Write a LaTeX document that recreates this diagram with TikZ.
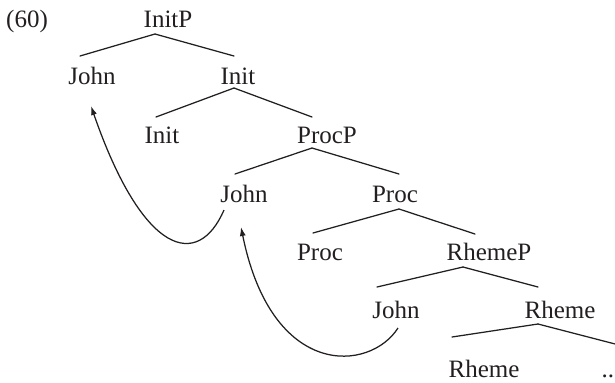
\documentclass[tikz,border=0pt]{standalone}
\usepackage{fontspec}
\setmainfont{Liberation Serif}
\usepackage{xcolor}
\usetikzlibrary{calc,arrows.meta}
\definecolor{ink}{HTML}{231F20}
\tikzset{
  lab/.style={anchor=base, text=ink, font=\fontsize{10}{12}\selectfont, inner sep=0pt},
  branch/.style={draw=ink, line width=0.5pt, line cap=round},
  move/.style={draw=ink, line width=0.5pt, -{Latex[length=3.6pt,width=2.4pt]}},
}
\begin{document}
\begin{tikzpicture}[x=0.4pt,y=-0.4pt]
  \useasboundingbox (0,0) rectangle (615,382);
  \node[lab] (ex) at (27,27) {(60)};
  % labels sit on their baselines
  \node[lab] (InitP) at (168,27) {InitP};
  \node[lab] (JohnA) at (92,84) {John};
  \node[lab] (Init) at (238,84) {Init};
  \node[lab] (InitH) at (162,143) {Init};
  \node[lab] (ProcP) at (327,143) {ProcP};
  \node[lab] (JohnB) at (244,202) {John};
  \node[lab] (Proc) at (395,202) {Proc};
  \node[lab] (ProcH) at (320,260) {Proc};
  \node[lab] (RhemeP) at (489,260) {RhemeP};
  \node[lab] (JohnC) at (396,318) {John};
  \node[lab] (Rheme) at (560,318) {Rheme};
  \node[lab] (RhemeH) at (484,377) {Rheme};
  \node[lab] (dots) at (611,377) {...};

  \draw[branch] ($(InitP.base)+(-13,7)$) -- ($(JohnA.base)+(-12,-28)$);
  \draw[branch] ($(InitP.base)+(-13,7)$) -- ($(Init.base)+(-4,-28)$);
  \draw[branch] ($(Init.base)+(-4,4)$) -- ($(InitH.base)+(-6,-26)$);
  \draw[branch] ($(Init.base)+(-4,4)$) -- ($(ProcP.base)+(-15,-26)$);
  \draw[branch] ($(ProcP.base)+(-15,5)$) -- ($(JohnB.base)+(-9,-28)$);
  \draw[branch] ($(ProcP.base)+(-15,5)$) -- ($(Proc.base)+(4,-28)$);
  \draw[branch] ($(Proc.base)+(4,7)$) -- ($(ProcH.base)+(-7,-27)$);
  \draw[branch] ($(Proc.base)+(4,7)$) -- ($(RhemeP.base)+(-14,-26)$);
  \draw[branch] ($(RhemeP.base)+(-26,7)$) -- ($(JohnC.base)+(-19,-31)$);
  \draw[branch] ($(RhemeP.base)+(-26,7)$) -- ($(Rheme.base)+(-22,-31)$);
  \draw[branch] ($(Rheme.base)+(-22,6)$) -- ($(RhemeH.base)+(-32,-40)$);
  \draw[branch] ($(Rheme.base)+(-22,6)$) -- ($(dots.base)+(8,-32)$);

  % movement arrows
  \draw[move] ($(JohnB.base)+(-20,8)$) .. controls ($(JohnB.base)+(-46,68)$) and ($(JohnA.base)+(51,172)$) .. ($(JohnA.base)+(-1,22)$);
  \draw[move] ($(JohnC.base)+(2,10)$) .. controls ($(JohnC.base)+(-26,54)$) and ($(JohnB.base)+(28,178)$) .. ($(JohnB.base)+(-3,25)$);
\end{tikzpicture}
\end{document}
